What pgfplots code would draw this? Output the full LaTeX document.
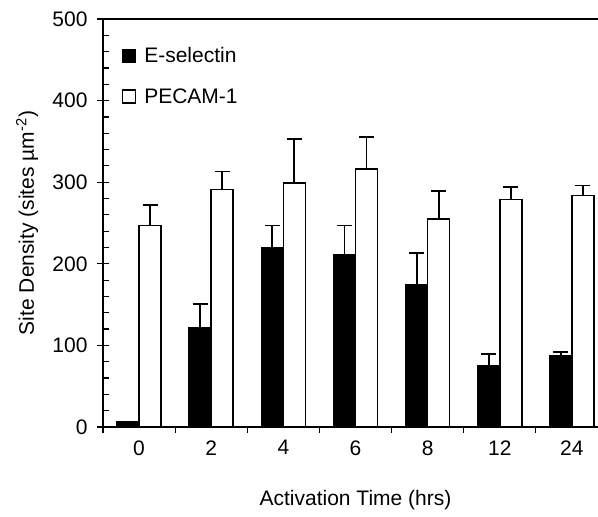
\documentclass[border=0pt]{standalone}
\usepackage{pgfplots}
\pgfplotsset{compat=1.18}
\usepackage{pgfplotstable}
\usepackage{fontspec}
\setmainfont{Liberation Sans}
\newcommand{\fs}{\fontsize{21}{24}\selectfont}
\pgfplotstableread{
x e ee p pe
0 6 0 247 25
1 122 29 291 22
2 220 27 299 54
3 211 36 316 39
4 174 39 255 34
5 75 14 279 15
6 87 5 284 12
}\data
\begin{document}
\begin{tikzpicture}
\begin{axis}[
  scale only axis, width=505pt, height=408pt,
  xmin=-0.5, xmax=6.5, ymin=0, ymax=500,
  axis line style={line width=1.4pt},
  /pgf/number format/assume math mode=true,
  xtick={0,...,6}, xticklabels={0,2,4,6,8,12,24},
  minor xtick={-0.5,0.5,...,5.5},
  ytick={0,100,...,500}, minor y tick num=4,
  tick align=center,
  xtick pos=left, ytick pos=left,
  major tick length=12pt, minor tick length=6pt,
  major x tick style={draw=none},
  major y tick style={line width=1.2pt, black},
  minor y tick style={line width=1.2pt, black, xshift=3pt},
  minor x tick style={line width=1.2pt, black, yshift=-3pt},
  tick label style={font=\fs},
  xticklabel style={yshift=-4pt},
  yticklabel style={xshift=-6pt},
  every axis x label/.style={at={(axis description cs:0.5,-0.18)}, anchor=center, font=\fs},
  every axis y label/.style={at={(axis description cs:-0.15,0.5)}, anchor=center, rotate=90, font=\fs},
  xlabel={Activation Time (hrs)},
  ylabel={Site Density (sites µm\textsuperscript{-2})},
  legend style={at={(0.037,0.935)}, anchor=north west, draw=none, fill=none, font=\fs, row sep=20pt, inner sep=0pt,
    /tikz/every odd column/.append style={column sep=6pt}},
  legend cell align=left,
  legend image code/.code={\draw[#1, line width=1.4pt] (0pt,-6.5pt) rectangle (13pt,6.5pt);},
]
\addplot[ybar, bar width=0.305, bar shift=0pt, fill=black, draw=black, line width=1.5pt,
  error bars/.cd, y dir=plus, y explicit,
  error bar style={line width=1.8pt, black},
  error mark options={rotate=90, mark size=7.5pt, line width=1.8pt, black}]
  table[x expr=\thisrow{x}-0.1525, y=e, y error=ee]{\data};
\addplot[ybar, bar width=0.305, bar shift=0pt, fill=white, draw=black, line width=1.5pt,
  error bars/.cd, y dir=plus, y explicit,
  error bar style={line width=1.8pt, black},
  error mark options={rotate=90, mark size=7.5pt, line width=1.8pt, black}]
  table[x expr=\thisrow{x}+0.1525, y=p, y error=pe]{\data};
\legend{E-selectin, PECAM-1}
\end{axis}
\pgfresetboundingbox
\path[use as bounding box] ([xshift=-103pt,yshift=-90pt]current axis.south west) rectangle ([xshift=495pt,yshift=19pt]current axis.north west);
\end{tikzpicture}
\end{document}
